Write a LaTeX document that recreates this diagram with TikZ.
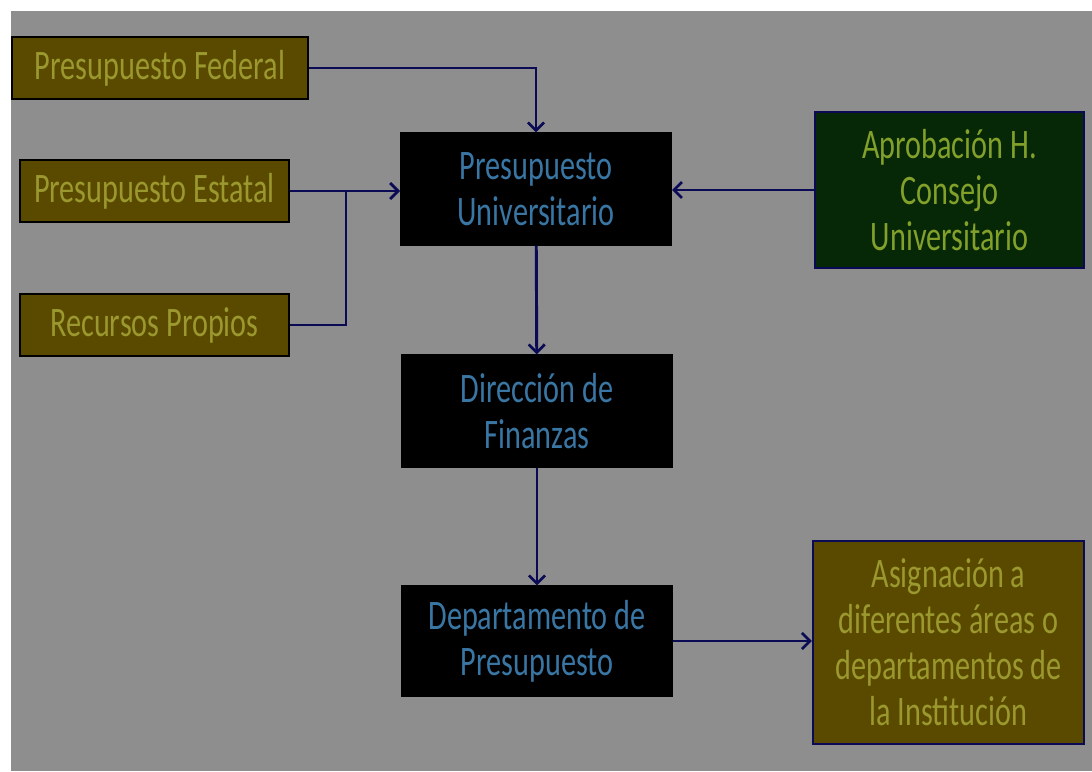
\documentclass[tikz,border=0pt]{standalone}
\usepackage{fontspec}
\setmainfont{Carlito}[FakeStretch=0.72]
\usepackage{xcolor}
\usetikzlibrary{positioning,calc,arrows.meta}

\definecolor{fondo}{HTML}{8E8E8E}
\definecolor{oliva}{HTML}{5A4A00}
\definecolor{olivatxt}{HTML}{9A982E}
\definecolor{verde}{HTML}{062806}
\definecolor{verdetxt}{HTML}{82A02A}
\definecolor{azultxt}{HTML}{3A76A4}
\definecolor{linea}{HTML}{0B0B55}

\begin{document}
\begin{tikzpicture}[x=0.75pt, y=-0.75pt,
        fuente/.style={draw=black, line width=1.6pt, fill=oliva, text=olivatxt, inner sep=0pt, align=center, minimum width=201.75pt, minimum height=46.5pt},
        oficina/.style={draw=black, line width=1pt, fill=black, text=azultxt, inner sep=0pt, align=center, minimum width=203pt, minimum height=84pt},
        consejo/.style={draw=linea, line width=1.4pt, fill=verde, text=verdetxt, inner sep=0pt, align=center, minimum width=201.75pt, minimum height=117pt},
        destino/.style={draw=linea, line width=1.8pt, fill=oliva, text=olivatxt, inner sep=0pt, align=center, minimum width=203.25pt, minimum height=152.25pt},
        flujo/.style={draw=linea, line width=2.2pt},
        >={Straight Barb[length=6pt,width=12pt,line width=2pt]},
        font=\fontsize{31.5}{34.5}\selectfont
    ]
        % Fondo
        \fill[white] (0,0) rectangle (1092,771);
        \fill[fondo] (11,11) rectangle (1092,771);
        \useasboundingbox (0,0) rectangle (1092,771);

        % Fuentes de recursos
        \node [fuente, minimum width=222pt] (fed) at (160,68) {Presupuesto Federal};
        \node [fuente] (est) at (154.5,191) {Presupuesto Estatal};
        \node [fuente] (rec) at (154.5,325) {Recursos Propios};

        % Oficinas
        \node [oficina] (pu) at (536,189) {Presupuesto\\Universitario};
        \node [oficina] (df) at (537,411) {Direcci\'on de\\Finanzas};
        \node [oficina, minimum height=82.5pt] (dp) at (537,641) {Departamento de\\Presupuesto};

        % Aprobacion y asignacion
        \node [consejo] (apr) at (949.5,190) {Aprobaci\'on H.\\Consejo\\Universitario};
        \node [destino] (asig) at (948.5,642.5) {Asignaci\'on a\\diferentes \'areas o\\departamentos de\\la Instituci\'on};

        \coordinate (union) at (346,191);

        \draw[flujo, ->] (fed.east) -| (pu.north);
        \draw[flujo, ->] (est.east) -- (est.east -| pu.west);
        \draw[flujo] (rec.east) -| (union);
        \draw[flujo, ->] (apr.west) -- (apr.west -| pu.east);

        \draw[flujo, ->] (pu) -- (df);
        \draw[flujo, ->] (df) -- (dp);
        \draw[flujo, ->] (dp.east) -- (dp.east -| asig.west);

    \end{tikzpicture}
\end{document}
